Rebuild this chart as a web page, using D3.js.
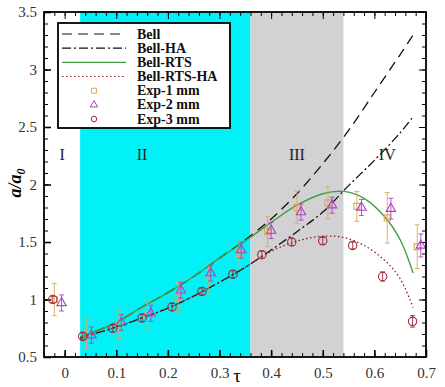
<!DOCTYPE html>
<html>
<head>
<meta charset="utf-8">
<script src="https://cdn.jsdelivr.net/npm/d3@7"></script>
<style>
  body { margin: 0; background: #fff; }
  text { font-family: "Liberation Serif", "DejaVu Serif", serif; }
</style>
</head>
<body>
<div id="chart"></div>
<script>
// ---- data ----
var xTicks = [0, 0.1, 0.2, 0.3, 0.4, 0.5, 0.6, 0.7];
var yTicks = [0.5, 1, 1.5, 2, 2.5, 3, 3.5];

var regionBounds = [-0.04, 0.03, 0.36, 0.54, 0.7];
var regionNames = ["I", "II", "III", "IV"];
var regionLabelX = [-0.005, 0.15, 0.45, 0.625];

// model curves
var bellTau = [0.03, 0.1, 0.15, 0.2, 0.25, 0.3, 0.35, 0.4, 0.45, 0.5, 0.55, 0.6, 0.65, 0.675];
var bellVal = [0.67, 0.80, 0.935, 1.06, 1.20, 1.36, 1.52, 1.70, 1.92, 2.18, 2.47, 2.80, 3.13, 3.30];

var bellHaTau = [0.03, 0.1, 0.15, 0.2, 0.25, 0.3, 0.35, 0.4, 0.45, 0.5, 0.55, 0.6, 0.65, 0.675];
var bellHaVal = [0.665, 0.76, 0.84, 0.925, 1.03, 1.15, 1.28, 1.43, 1.59, 1.76, 1.99, 2.21, 2.45, 2.59];

var rtsTau = [0.03, 0.1, 0.15, 0.2, 0.25, 0.3, 0.35, 0.4, 0.45, 0.5, 0.54, 0.58, 0.62, 0.65, 0.675];
var rtsVal = [0.67, 0.80, 0.935, 1.06, 1.20, 1.36, 1.51, 1.67, 1.82, 1.92, 1.94, 1.88, 1.72, 1.52, 1.23];

var rtsHaTau = [0.03, 0.1, 0.15, 0.2, 0.25, 0.3, 0.35, 0.38, 0.42, 0.46, 0.5, 0.54, 0.58, 0.62, 0.65, 0.675];
var rtsHaVal = [0.665, 0.76, 0.84, 0.925, 1.03, 1.15, 1.28, 1.37, 1.46, 1.52, 1.55, 1.54, 1.47, 1.34, 1.18, 0.93];

// experiments: tau, a/a0, error
var exp1Tau = [-0.02, 0.042, 0.105, 0.16, 0.22, 0.278, 0.338, 0.393, 0.45, 0.51, 0.566, 0.625, 0.683];
var exp1Val = [1.0, 0.70, 0.78, 0.87, 1.02, 1.18, 1.40, 1.59, 1.80, 1.84, 1.81, 1.71, 1.46];
var exp1Err = [0.14, 0.13, 0.12, 0.12, 0.13, 0.13, 0.12, 0.13, 0.14, 0.14, 0.13, 0.22, 0.19];

var exp2Tau = [-0.006, 0.052, 0.11, 0.167, 0.225, 0.283, 0.342, 0.40, 0.458, 0.518, 0.575, 0.632, 0.69];
var exp2Val = [0.97, 0.69, 0.80, 0.88, 1.08, 1.23, 1.43, 1.60, 1.76, 1.82, 1.80, 1.79, 1.47];
var exp2Err = [0.07, 0.07, 0.07, 0.07, 0.07, 0.07, 0.07, 0.07, 0.07, 0.07, 0.07, 0.09, 0.1];

var exp3Tau = [-0.023, 0.035, 0.093, 0.15, 0.208, 0.266, 0.326, 0.382, 0.44, 0.50, 0.558, 0.616, 0.674];
var exp3Val = [1.0, 0.68, 0.75, 0.84, 0.935, 1.07, 1.22, 1.39, 1.50, 1.51, 1.47, 1.20, 0.81];
var exp3Err = [0.03, 0.03, 0.03, 0.03, 0.03, 0.03, 0.03, 0.03, 0.03, 0.03, 0.03, 0.04, 0.05];

var legendNames = ["Bell", "Bell-HA", "Bell-RTS", "Bell-RTS-HA", "Exp-1 mm", "Exp-2 mm", "Exp-3 mm"];

// ---- layout ----
var svgWidth = 445;
var svgHeight = 387;
var margin = { top: 12, right: 19, bottom: 30, left: 44 };
var width = svgWidth - margin.left - margin.right;
var height = svgHeight - margin.top - margin.bottom;

var svg = d3.select("#chart")
  .append("svg")
  .attr("width", svgWidth)
  .attr("height", svgHeight);

var chartGroup = svg.append("g")
  .attr("transform", `translate(${margin.left}, ${margin.top})`);

var xScale = d3.scaleLinear().domain([-0.04, 0.7]).range([0, width]);
var yScale = d3.scaleLinear().domain([0.5, 3.5]).range([height, 0]);

// shaded regions
var regionFill = ["none", "#00f2f7", "#d2d2d4", "none"];
chartGroup.selectAll(".region")
  .data(regionNames)
  .enter()
  .append("rect")
  .attr("x", (d, i) => xScale(regionBounds[i]))
  .attr("y", 0)
  .attr("width", (d, i) => xScale(regionBounds[i + 1]) - xScale(regionBounds[i]))
  .attr("height", height)
  .attr("fill", (d, i) => regionFill[i]);

chartGroup.selectAll(".regionLabel")
  .data(regionNames)
  .enter()
  .append("text")
  .attr("x", (d, i) => xScale(regionLabelX[i]))
  .attr("y", yScale(2.21))
  .attr("text-anchor", "middle")
  .attr("font-size", 16)
  .attr("fill", "#222")
  .text(d => d);

// axes with inward ticks, mirrored on top / right
function addAxis(axis, tr) {
  var g = chartGroup.append("g").attr("transform", tr).call(axis);
  g.select(".domain").remove();
  return g;
}
var xMinor = d3.range(-0.04, 0.701, 0.02);
var yMinor = d3.range(0.5, 3.501, 0.1);

var bx = addAxis(d3.axisBottom(xScale).tickValues(xTicks).tickSize(-7).tickPadding(10).tickFormat(d3.format("")), `translate(0, ${height})`);
addAxis(d3.axisBottom(xScale).tickValues(xMinor).tickSize(-4).tickFormat(""), `translate(0, ${height})`);
addAxis(d3.axisTop(xScale).tickValues(xTicks).tickSize(-7).tickFormat(""), "translate(0, 0)");
addAxis(d3.axisTop(xScale).tickValues(xMinor).tickSize(-4).tickFormat(""), "translate(0, 0)");
var ly = addAxis(d3.axisLeft(yScale).tickValues(yTicks).tickSize(-7).tickPadding(7).tickFormat(d3.format("")), "translate(0, 0)");
addAxis(d3.axisLeft(yScale).tickValues(yMinor).tickSize(-4).tickFormat(""), "translate(0, 0)");
addAxis(d3.axisRight(yScale).tickValues(yTicks).tickSize(-7).tickFormat(""), `translate(${width}, 0)`);
addAxis(d3.axisRight(yScale).tickValues(yMinor).tickSize(-4).tickFormat(""), `translate(${width}, 0)`);

chartGroup.selectAll(".tick line").attr("stroke", "#000").attr("stroke-width", 1);
bx.selectAll("text").attr("font-size", 15).attr("fill", "#333").attr("font-family", "Liberation Serif");
bx.selectAll(".tick line").attr("stroke-width", 1.6);
ly.selectAll("text").attr("font-size", 15).attr("fill", "#333").attr("font-family", "Liberation Serif");
ly.selectAll(".tick line").attr("stroke-width", 1.6);

// model lines
var line = d3.line()
  .x(d => xScale(d[0]))
  .y(d => yScale(d[1]))
  .curve(d3.curveCatmullRom);

var curves = [
  { tau: bellTau, val: bellVal, color: "#111", dash: "10,6", w: 1.3 },
  { tau: bellHaTau, val: bellHaVal, color: "#111", dash: "9,3,2,3", w: 1.3 },
  { tau: rtsTau, val: rtsVal, color: "#3f9f3f", dash: null, w: 1.4 },
  { tau: rtsHaTau, val: rtsHaVal, color: "#8b2020", dash: "1.5,2.5", w: 1.3 }
];

curves.forEach(function(c) {
  chartGroup.append("path")
    .datum(d3.zip(c.tau, c.val))
    .attr("d", line)
    .attr("fill", "none")
    .attr("stroke", c.color)
    .attr("stroke-width", c.w)
    .attr("stroke-dasharray", c.dash);
});

// experimental points with error bars
var exps = [
  { tau: exp1Tau, val: exp1Val, err: exp1Err, color: "#dca85a", shape: d3.symbolSquare, size: 36 },
  { tau: exp2Tau, val: exp2Val, err: exp2Err, color: "#b040c8", shape: d3.symbolTriangle, size: 38 },
  { tau: exp3Tau, val: exp3Val, err: exp3Err, color: "#a02838", shape: d3.symbolCircle, size: 55 }
];

exps.forEach(function(e) {
  var pts = d3.zip(e.tau, e.val, e.err);
  var g = chartGroup.append("g");
  g.selectAll(".err")
    .data(pts)
    .enter()
    .append("path")
    .attr("d", d => {
      var x = xScale(d[0]), y1 = yScale(d[1] - d[2]), y2 = yScale(d[1] + d[2]);
      return `M${x},${y1}V${y2}M${x - 2.5},${y1}H${x + 2.5}M${x - 2.5},${y2}H${x + 2.5}`;
    })
    .attr("stroke", e.color)
    .attr("stroke-width", 0.9)
    .attr("fill", "none");
  g.selectAll(".pt")
    .data(pts)
    .enter()
    .append("path")
    .attr("transform", d => `translate(${xScale(d[0])}, ${yScale(d[1])})`)
    .attr("d", d3.symbol().type(e.shape).size(e.size))
    .attr("fill", "none")
    .attr("stroke", e.color)
    .attr("stroke-width", 1.1);
});

// frame
chartGroup.append("rect")
  .attr("width", width)
  .attr("height", height)
  .attr("fill", "none")
  .attr("stroke", "#000")
  .attr("stroke-width", 1.8);

// legend
var legend = svg.append("g").attr("transform", "translate(58, 23)");
legend.append("rect")
  .attr("width", 172)
  .attr("height", 105)
  .attr("fill", "#fff")
  .attr("stroke", "#000")
  .attr("stroke-width", 1.8);

var rowY = d3.scaleLinear().domain([0, 6]).range([11, 96]);
legendNames.forEach(function(name, i) {
  var y = rowY(i);
  if (i < 4) {
    var c = curves[i];
    legend.append("line")
      .attr("x1", 4).attr("x2", 68)
      .attr("y1", y).attr("y2", y)
      .attr("stroke", c.color)
      .attr("stroke-width", 1.2)
      .attr("stroke-dasharray", c.dash);
  } else {
    var e = exps[i - 4];
    legend.append("path")
      .attr("transform", `translate(36, ${y})`)
      .attr("d", d3.symbol().type(e.shape).size(24))
      .attr("fill", "none")
      .attr("stroke", e.color)
      .attr("stroke-width", 1);
  }
  legend.append("text")
    .attr("x", 79)
    .attr("y", y + 4.5)
    .attr("font-size", 14)
    .attr("font-weight", "bold")
    .attr("fill", "#111")
    .text(name);
});

// axis titles
var yTitle = svg.append("text")
  .attr("transform", "translate(21, 183) rotate(-90)")
  .attr("text-anchor", "middle")
  .attr("font-size", 18)
  .attr("font-weight", "bold")
  .attr("font-style", "italic");
yTitle.append("tspan").text("a/a");
yTitle.append("tspan").attr("font-size", 12).attr("dy", 4).text("0");

svg.append("text")
  .attr("x", 237)
  .attr("y", 382)
  .attr("text-anchor", "middle")
  .attr("font-size", 19)
  .text("τ");
</script>
</body>
</html>
